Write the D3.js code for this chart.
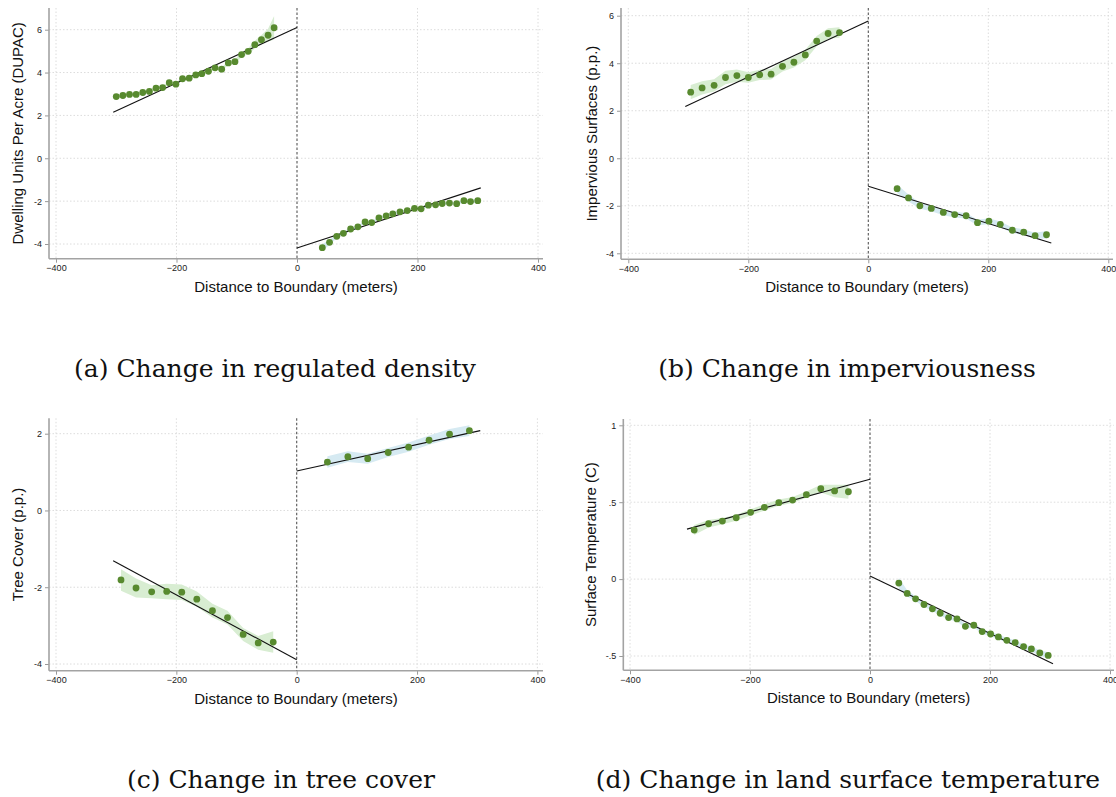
<!doctype html>
<html lang="en">
<head>
    <meta charset="UTF-8">
    <script src="https://cdnjs.cloudflare.com/ajax/libs/d3/7.8.5/d3.min.js"></script>
    <title>Boundary discontinuities</title>
    <style>
        body { margin: 0; background: #fff; }
    </style>
</head>
<body>

<div id="Area"></div>

<script>

    // ---- data ----
    const xTicks = [-400, -200, 0, 200, 400];

    // (a) dwelling units per acre
    const aLeftX  = [-300, -289, -278, -267, -256, -245, -234, -223, -212, -201, -190, -179, -168, -158, -147, -136, -125, -114, -103, -92, -81, -70, -59, -48, -38];
    const aLeftY  = [2.88, 2.93, 2.98, 2.98, 3.07, 3.12, 3.27, 3.30, 3.53, 3.46, 3.71, 3.74, 3.89, 3.95, 4.06, 4.22, 4.16, 4.45, 4.51, 4.84, 4.99, 5.30, 5.53, 5.74, 6.09];
    const aLeftCi = [0.09, 0.08, 0.07, 0.07, 0.07, 0.07, 0.07, 0.07, 0.07, 0.07, 0.07, 0.07, 0.07, 0.07, 0.07, 0.08, 0.08, 0.1, 0.1, 0.12, 0.14, 0.18, 0.22, 0.3, 0.55];
    const aRightX  = [42, 54, 66, 77, 89, 101, 113, 124, 136, 148, 159, 171, 183, 195, 206, 218, 230, 241, 253, 265, 277, 288, 300];
    const aRightY  = [-4.17, -3.92, -3.64, -3.50, -3.30, -3.20, -2.97, -3.00, -2.78, -2.69, -2.59, -2.50, -2.44, -2.34, -2.36, -2.19, -2.17, -2.11, -2.09, -2.12, -1.98, -2.02, -1.98];
    const aRightCi = [0.16, 0.12, 0.09, 0.08, 0.07, 0.06, 0.06, 0.06, 0.06, 0.06, 0.06, 0.06, 0.06, 0.06, 0.06, 0.06, 0.06, 0.06, 0.06, 0.07, 0.07, 0.08, 0.09];
    const aFitLeft  = [2.15, 6.10];
    const aFitRight = [-4.19, -1.38];
    const aYTicks = [-4, -2, 0, 2, 4, 6];

    // (b) impervious surfaces
    const bLeftX  = [-296, -277, -257, -238, -219, -200, -181, -162, -143, -124, -105, -86, -67, -48];
    const bLeftY  = [2.78, 2.96, 3.07, 3.40, 3.48, 3.40, 3.51, 3.54, 3.87, 4.04, 4.35, 4.93, 5.25, 5.29];
    const bLeftCi = [0.3, 0.28, 0.26, 0.28, 0.26, 0.22, 0.22, 0.22, 0.22, 0.22, 0.22, 0.22, 0.22, 0.22];
    const bRightX  = [48, 67, 86, 105, 125, 144, 163, 182, 201, 220, 240, 259, 278, 297];
    const bRightY  = [-1.28, -1.67, -2.00, -2.11, -2.28, -2.37, -2.42, -2.71, -2.65, -2.78, -3.03, -3.11, -3.26, -3.22];
    const bRightCi = [0.18, 0.15, 0.13, 0.12, 0.12, 0.12, 0.12, 0.12, 0.12, 0.12, 0.12, 0.12, 0.13, 0.16];
    const bFitLeft  = [2.18, 5.78];
    const bFitRight = [-1.18, -3.57];
    const bYTicks = [-4, -2, 0, 2, 4, 6];

    // (c) tree cover
    const cLeftX  = [-292, -267, -241, -216, -191, -166, -140, -115, -89, -64, -39];
    const cLeftY  = [-1.81, -2.02, -2.12, -2.11, -2.13, -2.31, -2.61, -2.79, -3.23, -3.45, -3.43];
    const cLeftCi = [0.28, 0.25, 0.17, 0.2, 0.2, 0.2, 0.18, 0.18, 0.17, 0.18, 0.28];
    const cRightX  = [51, 85, 118, 152, 186, 220, 254, 287];
    const cRightY  = [1.26, 1.40, 1.35, 1.51, 1.65, 1.83, 1.99, 2.08];
    const cRightCi = [0.15, 0.14, 0.13, 0.12, 0.12, 0.12, 0.13, 0.14];
    const cFitLeft  = [-1.31, -3.89];
    const cFitRight = [1.03, 2.08];
    const cYTicks = [-4, -2, 0, 2];

    // (d) surface temperature
    const dLeftX  = [-293, -269, -246, -223, -199, -176, -152, -129, -106, -82, -59, -36];
    const dLeftY  = [0.319, 0.360, 0.377, 0.399, 0.434, 0.466, 0.497, 0.514, 0.549, 0.588, 0.573, 0.568];
    const dLeftCi = [0.033, 0.025, 0.02, 0.02, 0.02, 0.02, 0.02, 0.02, 0.02, 0.025, 0.04, 0.045];
    const dRightX  = [48, 62, 76, 90, 104, 117, 131, 145, 159, 173, 187, 201, 214, 228, 242, 256, 269, 283, 297];
    const dRightY  = [-0.026, -0.093, -0.128, -0.165, -0.193, -0.222, -0.250, -0.259, -0.307, -0.300, -0.341, -0.357, -0.376, -0.398, -0.413, -0.439, -0.454, -0.480, -0.496];
    const dRightCi = [0.035, 0.02, 0.016, 0.015, 0.015, 0.015, 0.015, 0.015, 0.015, 0.015, 0.015, 0.015, 0.015, 0.015, 0.015, 0.015, 0.016, 0.018, 0.02];
    const dFitLeft  = [0.325, 0.649];
    const dFitRight = [0.02, -0.55];
    const dYTicks = [-0.5, 0, 0.5, 1];

    const fitLeftX = [-305, 0];
    const fitRightX = [0, 305];

    const yTitles = ["Dwelling Units Per Acre (DUPAC)", "Impervious Surfaces (p.p.)", "Tree Cover (p.p.)", "Surface Temperature (C)"];
    const captions = ["(a) Change in regulated density", "(b) Change in imperviousness", "(c) Change in tree cover", "(d) Change in land surface temperature"];
    const xTitle = "Distance to Boundary (meters)";

    // ---- layout (pixels) ----
    const panels = [
        {axisX: 49, xr: [56, 538], yd: [-4, 6], yr: [244, 29.7], top: 8, bottom: 258.7, right: 543, ylabX: 18, cap: [275, 377],
         lx: aLeftX, ly: aLeftY, lc: aLeftCi, rx: aRightX, ry: aRightY, rc: aRightCi, fl: aFitLeft, fr: aFitRight, yt: aYTicks},
        {axisX: 621, xr: [628.3, 1108.3], yd: [-4, 6], yr: [253.3, 15.7], top: 8, bottom: 259.3, right: 1113, ylabX: 591.7, cap: [847, 377],
         lx: bLeftX, ly: bLeftY, lc: bLeftCi, rx: bRightX, ry: bRightY, rc: bRightCi, fl: bFitLeft, fr: bFitRight, yt: bYTicks},
        {axisX: 49, xr: [56, 537.4], yd: [-4, 2], yr: [664, 433.7], top: 418.3, bottom: 670.7, right: 543, ylabX: 18, cap: [281, 788],
         lx: cLeftX, ly: cLeftY, lc: cLeftCi, rx: cRightX, ry: cRightY, rc: cRightCi, fl: cFitLeft, fr: cFitRight, yt: cYTicks},
        {axisX: 623.3, xr: [630, 1110], yd: [-0.5, 1], yr: [656, 425.3], top: 419, bottom: 670.3, right: 1114, ylabX: 590.7, cap: [848, 788],
         lx: dLeftX, ly: dLeftY, lc: dLeftCi, rx: dRightX, ry: dRightY, rc: dRightCi, fl: dFitLeft, fr: dFitRight, yt: dYTicks}
    ];

    const dotColor = "#588a2f";
    const bandLeft = "#d8edd2";
    const bandRight = "#d6eaf2";
    const sansFont = "'Liberation Sans', Arial, sans-serif";

    const svg = d3.select("#Area")
        .append("svg")
        .attr("width", 1116)
        .attr("height", 797);

    // Stata style tick labels: .5, -.5
    const fmt = d => d === 0 ? "0" : String(d).replace(/^(-?)0\./, "$1.");

    panels.forEach((p, i) => {
        const x = d3.scaleLinear().domain([-400, 400]).range(p.xr);
        const y = d3.scaleLinear().domain(p.yd).range(p.yr);
        const g = svg.append("g");

        // grid
        g.selectAll(".hg").data(p.yt).join("line")
            .attr("x1", p.axisX).attr("x2", p.right)
            .attr("y1", d => y(d)).attr("y2", d => y(d))
            .attr("stroke", "#dcdcdc").attr("stroke-width", 1).attr("stroke-dasharray", "1.5,2");
        g.selectAll(".vg").data(xTicks.filter(d => d !== 0)).join("line")
            .attr("x1", d => x(d)).attr("x2", d => x(d))
            .attr("y1", p.top).attr("y2", p.bottom)
            .attr("stroke", "#dcdcdc").attr("stroke-width", 1).attr("stroke-dasharray", "1.5,2");

        // confidence bands
        const band = (xs, ys, cs) => d3.area()
            .x((d, k) => x(xs[k]))
            .y0((d, k) => y(ys[k] - cs[k]))
            .y1((d, k) => y(ys[k] + cs[k]))(ys);
        g.append("path").attr("d", band(p.lx, p.ly, p.lc))
            .attr("fill", bandLeft).attr("stroke", "none");
        g.append("path").attr("d", band(p.rx, p.ry, p.rc))
            .attr("fill", bandRight).attr("stroke", "none");

        // axes
        const yAxis = d3.axisLeft(y).tickValues(p.yt).tickFormat(fmt).tickSize(4).tickPadding(3);
        const ya = g.append("g").attr("transform", `translate(${p.axisX},0)`).call(yAxis);
        const xAxis = d3.axisBottom(x).tickValues(xTicks).tickFormat(d3.format("d")).tickSize(4).tickPadding(2);
        const xa = g.append("g").attr("transform", `translate(0,${p.bottom})`).call(xAxis);
        [ya, xa].forEach(a => {
            a.select(".domain").remove();
            a.selectAll(".tick line").attr("stroke", "#999").attr("stroke-width", 1);
            a.selectAll(".tick text").attr("fill", "#222").style("font-family", sansFont).style("font-size", "9px");
        });
        g.append("line")
            .attr("x1", p.axisX).attr("x2", p.axisX).attr("y1", p.top).attr("y2", p.bottom)
            .attr("stroke", "#a3a3a3").attr("stroke-width", 1.6);
        g.append("line")
            .attr("x1", p.axisX).attr("x2", p.right).attr("y1", p.bottom).attr("y2", p.bottom)
            .attr("stroke", "#a3a3a3").attr("stroke-width", 1.6);

        // boundary
        g.append("line")
            .attr("x1", x(0)).attr("x2", x(0)).attr("y1", p.top).attr("y2", p.bottom)
            .attr("stroke", "#555").attr("stroke-width", 1.1).attr("stroke-dasharray", "2.5,2");

        // linear fits
        const fit = d3.line().x(d => x(d[0])).y(d => y(d[1]));
        g.append("path").attr("d", fit(d3.zip(fitLeftX, p.fl)))
            .attr("fill", "none").attr("stroke", "#111").attr("stroke-width", 1.1);
        g.append("path").attr("d", fit(d3.zip(fitRightX, p.fr)))
            .attr("fill", "none").attr("stroke", "#111").attr("stroke-width", 1.1);

        // binned means
        g.selectAll(".pl").data(d3.zip(p.lx, p.ly)).join("circle")
            .attr("cx", d => x(d[0])).attr("cy", d => y(d[1])).attr("r", 3.4)
            .attr("fill", dotColor);
        g.selectAll(".pr").data(d3.zip(p.rx, p.ry)).join("circle")
            .attr("cx", d => x(d[0])).attr("cy", d => y(d[1])).attr("r", 3.4)
            .attr("fill", dotColor);

        // titles
        g.append("text")
            .attr("x", (p.axisX + p.right) / 2).attr("y", p.bottom + 33)
            .attr("text-anchor", "middle")
            .style("font-family", sansFont).style("font-size", "15px").attr("fill", "#111")
            .text(xTitle);
        g.append("text")
            .attr("transform", `translate(${p.ylabX},${(p.top + p.bottom) / 2}) rotate(-90)`)
            .attr("text-anchor", "middle").attr("dy", "0.35em")
            .style("font-family", sansFont).style("font-size", "15px").attr("fill", "#111")
            .text(yTitles[i]);

        // caption
        svg.append("text")
            .attr("x", p.cap[0]).attr("y", p.cap[1])
            .attr("text-anchor", "middle")
            .style("font-family", "'DejaVu Serif', serif").style("font-size", "25px").attr("fill", "#111")
            .text(captions[i]);
    });

</script>
</body>
</html>
